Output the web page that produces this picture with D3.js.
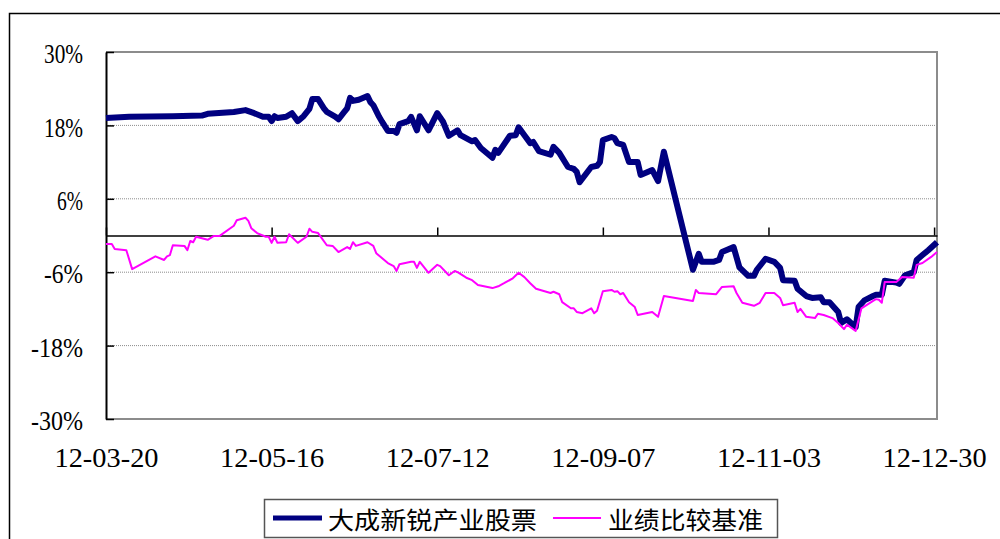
<!DOCTYPE html>
<html lang="zh">
<head>
<meta charset="utf-8">
<title>大成新锐产业股票 vs 业绩比较基准</title>
<script src="https://cdn.jsdelivr.net/npm/d3@7"></script>
<style>
  body { margin: 0; background: #fff; }
  svg { display: block; }
</style>
</head>
<body>
<script>
// series names, axis ticks
var seriesNames = ["大成新锐产业股票", "业绩比较基准"];
var yTicks = [-30, -18, -6, 6, 18, 30];
var xTickLabels = ["12-03-20", "12-05-16", "12-07-12", "12-09-07", "12-11-03", "12-12-30"];

// fund (navy), %
var fundDates = ["2012-03-20","2012-03-28","2012-04-12","2012-04-22","2012-04-24","2012-05-03","2012-05-07","2012-05-10",
  "2012-05-13","2012-05-15","2012-05-16","2012-05-17","2012-05-18","2012-05-21","2012-05-23","2012-05-25","2012-05-27",
  "2012-05-29","2012-05-30","2012-06-01","2012-06-03","2012-06-04","2012-06-07","2012-06-08","2012-06-10","2012-06-11",
  "2012-06-12","2012-06-13","2012-06-15","2012-06-18","2012-06-19","2012-06-20","2012-06-22","2012-06-23","2012-06-25",
  "2012-06-27","2012-06-28","2012-06-29","2012-07-02","2012-07-03","2012-07-05","2012-07-06","2012-07-09","2012-07-12",
  "2012-07-14","2012-07-16","2012-07-19","2012-07-20","2012-07-24","2012-07-25","2012-07-27","2012-07-31","2012-08-01",
  "2012-08-02","2012-08-06","2012-08-08","2012-08-09","2012-08-11","2012-08-13","2012-08-14","2012-08-16","2012-08-20",
  "2012-08-21","2012-08-23","2012-08-26","2012-08-28","2012-08-29","2012-08-30","2012-09-03","2012-09-05","2012-09-06",
  "2012-09-07","2012-09-10","2012-09-11","2012-09-12","2012-09-14","2012-09-16","2012-09-17","2012-09-19","2012-09-20",
  "2012-09-24","2012-09-26","2012-09-28","2012-10-08","2012-10-10","2012-10-11","2012-10-15","2012-10-17","2012-10-18",
  "2012-10-22","2012-10-24","2012-10-27","2012-10-29","2012-10-30","2012-11-02","2012-11-05","2012-11-07","2012-11-08",
  "2012-11-12","2012-11-13","2012-11-16","2012-11-18","2012-11-21","2012-11-22","2012-11-24","2012-11-27","2012-11-28",
  "2012-11-30","2012-12-03","2012-12-04","2012-12-06","2012-12-09","2012-12-10","2012-12-12","2012-12-13","2012-12-17",
  "2012-12-18","2012-12-20","2012-12-23","2012-12-24","2012-12-26","2012-12-28","2012-12-31"];
var fundValues = [19.2,19.4,19.5,19.6,19.9,20.2,20.5,20.0,
  19.4,19.4,18.7,19.5,19.2,19.4,20.0,18.7,19.5,
  20.7,22.3,22.3,20.8,20.2,19.4,19.0,20.2,20.8,
  22.5,22.0,22.2,22.8,21.8,21.3,19.4,18.6,17.1,
  17.1,16.8,18.2,18.7,19.4,17.2,19.5,17.2,20.0,
  18.6,16.3,17.2,16.4,15.4,15.6,14.3,12.7,14.0,
  13.5,16.3,16.4,17.7,16.4,15.1,15.3,13.8,13.2,
  14.5,13.5,11.2,10.9,10.4,8.7,11.2,11.4,12.0,
  15.6,16.1,15.9,15.1,14.8,12.0,12.0,12.0,9.9,
  10.7,8.9,13.7,-5.6,-3.0,-4.3,-4.3,-4.0,-2.7,
  -1.9,-5.2,-6.6,-6.6,-5.6,-3.8,-4.3,-5.3,-7.3,
  -7.4,-8.7,-9.9,-10.2,-10.1,-10.9,-10.9,-12.5,-14.3,
  -13.7,-15.0,-11.7,-10.6,-9.9,-9.7,-9.7,-7.4,-7.7,
  -7.9,-6.5,-6.0,-4.0,-3.2,-2.4,-1.1];

// benchmark (magenta), %
var benchDates = ["2012-03-20","2012-03-22","2012-03-23","2012-03-27","2012-03-29","2012-04-06","2012-04-09","2012-04-10",
  "2012-04-11","2012-04-12","2012-04-16","2012-04-17","2012-04-18","2012-04-19","2012-04-20","2012-04-24","2012-04-26",
  "2012-04-28","2012-05-03","2012-05-04","2012-05-07","2012-05-08","2012-05-09","2012-05-11","2012-05-14","2012-05-15",
  "2012-05-16","2012-05-17","2012-05-18","2012-05-21","2012-05-22","2012-05-25","2012-05-28","2012-05-29","2012-05-30",
  "2012-06-01","2012-06-04","2012-06-06","2012-06-08","2012-06-11","2012-06-12","2012-06-13","2012-06-14","2012-06-18",
  "2012-06-20","2012-06-21","2012-06-25","2012-06-27","2012-06-28","2012-06-29","2012-07-03","2012-07-04","2012-07-05",
  "2012-07-06","2012-07-09","2012-07-12","2012-07-13","2012-07-16","2012-07-18","2012-07-19","2012-07-22","2012-07-24",
  "2012-07-26","2012-07-31","2012-08-02","2012-08-04","2012-08-07","2012-08-09","2012-08-11","2012-08-13","2012-08-15",
  "2012-08-20","2012-08-21","2012-08-23","2012-08-24","2012-08-27","2012-08-28","2012-08-29","2012-08-31","2012-09-03",
  "2012-09-04","2012-09-05","2012-09-07","2012-09-10","2012-09-11","2012-09-12","2012-09-13","2012-09-14","2012-09-16",
  "2012-09-18","2012-09-19","2012-09-24","2012-09-26","2012-09-28","2012-10-08","2012-10-09","2012-10-10","2012-10-16",
  "2012-10-18","2012-10-22","2012-10-23","2012-10-25","2012-10-29","2012-10-31","2012-11-02","2012-11-05","2012-11-07",
  "2012-11-08","2012-11-12","2012-11-13","2012-11-14","2012-11-16","2012-11-19","2012-11-20","2012-11-22","2012-11-25",
  "2012-11-27","2012-11-29","2012-11-30","2012-12-03","2012-12-05","2012-12-09","2012-12-10","2012-12-11","2012-12-12",
  "2012-12-13","2012-12-17","2012-12-19","2012-12-23","2012-12-24","2012-12-26","2012-12-29","2012-12-31"];
var benchValues = [-1.4,-1.4,-2.2,-2.4,-5.5,-3.4,-4.0,-3.4,
  -3.2,-1.6,-1.7,-2.4,-0.9,-1.1,-0.2,-0.7,-0.1,
  -0.1,1.6,2.5,2.9,2.4,1.2,0.4,-0.2,-0.2,
  -1.2,-0.2,-1.2,-1.1,0.2,-1.2,-0.2,1.1,0.6,
  0.4,-1.6,-1.7,-2.7,-1.9,-2.2,-1.1,-1.7,-1.1,
  -1.7,-2.9,-4.5,-5.0,-5.8,-4.7,-4.3,-4.3,-5.3,
  -4.3,-6.1,-4.8,-5.0,-6.5,-5.8,-6.0,-6.9,-7.3,
  -8.1,-8.6,-8.3,-7.8,-7.0,-6.1,-6.8,-7.8,-8.7,
  -9.4,-9.2,-9.6,-10.9,-11.9,-11.9,-12.5,-12.7,-11.9,
  -12.7,-12.3,-9.1,-8.9,-9.2,-9.1,-9.6,-9.4,-10.9,
  -11.7,-13.0,-12.5,-13.3,-9.9,-10.7,-8.9,-9.4,-9.6,
  -8.4,-8.3,-9.4,-11.0,-11.5,-11.0,-9.4,-9.4,-10.2,
  -11.4,-11.0,-12.5,-12.0,-13.3,-13.5,-12.8,-13.0,-13.5,
  -14.3,-15.3,-14.6,-15.6,-11.9,-10.7,-10.4,-10.5,-11.0,
  -7.6,-7.6,-6.8,-6.9,-4.8,-4.5,-3.5,-2.7];

var w = 1000, h = 539;
var plotLeft = 106, plotRight = 937, plotTop = 52, plotBottom = 419;

var parseDate = d3.timeParse("%Y-%m-%d");
var parseTick = d3.timeParse("%y-%m-%d");

var fund = fundDates.map(function(d, i) { return { date: parseDate(d), value: fundValues[i] }; });
var bench = benchDates.map(function(d, i) { return { date: parseDate(d), value: benchValues[i] }; });
var tickDates = xTickLabels.map(function(s) { return parseTick(s); });

var x = d3.scaleTime()
  .domain([parseDate("2012-03-20"), parseDate("2012-12-31")])
  .range([plotLeft, plotRight]);
var y = d3.scaleLinear().domain([-30, 30]).range([plotBottom, plotTop]);

var svg = d3.select("body").append("svg").attr("width", w).attr("height", h);

// outer frame (only top and left are on screen)
svg.append("rect")
  .attr("x", 9.5).attr("y", 13.5).attr("width", 1100).attr("height", 700)
  .attr("fill", "none").attr("stroke", "#000").attr("stroke-width", 1.5);

// dotted grid lines
svg.append("g").selectAll("line")
  .data(yTicks.filter(function(v) { return v !== 30 && v !== -30; }))
  .enter().append("line")
  .attr("x1", plotLeft).attr("x2", plotRight)
  .attr("y1", function(d) { return y(d); }).attr("y2", function(d) { return y(d); })
  .attr("stroke", "#8c8c8c").attr("stroke-width", 1).attr("stroke-dasharray", "1,1");

// plot frame top / right / bottom
svg.append("path")
  .attr("d", "M" + plotLeft + "," + y(30) + "H" + plotRight + "V" + y(-30) + "H" + plotLeft)
  .attr("fill", "none").attr("stroke", "#8c8c8c").attr("stroke-width", 2);

// y axis, ticks pointing inwards
var yAxis = svg.append("g")
  .attr("transform", "translate(" + plotLeft + ",0)")
  .call(d3.axisLeft(y).tickValues(yTicks).tickSizeInner(-8).tickSizeOuter(0).tickPadding(23)
    .tickFormat(function(d) { return d + "%"; }));
yAxis.select(".domain").attr("stroke", "#000").attr("stroke-width", 2);
yAxis.selectAll(".tick line").attr("stroke", "#000").attr("stroke-width", 1.5);
yAxis.selectAll(".tick text")
  .attr("font-family", "'Liberation Serif', 'DejaVu Serif', serif")
  .attr("font-size", 28).attr("fill", "#000")
  .attr("dy", "0.38em")
  .attr("textLength", function(d) { return (d + "%").length * 13; })
  .attr("lengthAdjust", "spacingAndGlyphs");

// zero line with date ticks going up
var zeroAxis = svg.append("g")
  .attr("transform", "translate(0," + y(0) + ")")
  .call(d3.axisTop(x).tickValues(tickDates).tickSizeInner(8).tickSizeOuter(0).tickFormat(""));
zeroAxis.select(".domain").attr("stroke", "#000").attr("stroke-width", 1.5);
zeroAxis.selectAll(".tick line").attr("stroke", "#000").attr("stroke-width", 1.5);

// date labels under the plot
var xLabels = svg.append("g")
  .attr("transform", "translate(0," + plotBottom + ")")
  .call(d3.axisBottom(x).tickValues(tickDates).tickSize(0).tickPadding(28)
    .tickFormat(function(d, i) { return xTickLabels[i]; }));
xLabels.select(".domain").remove();
xLabels.selectAll(".tick text")
  .attr("font-family", "'Liberation Serif', 'DejaVu Serif', serif")
  .attr("font-size", 28).attr("fill", "#000")
  .attr("textLength", 104)
  .attr("lengthAdjust", "spacingAndGlyphs");

// lines
var line = d3.line()
  .x(function(d) { return x(d.date); })
  .y(function(d) { return y(d.value); });

svg.append("path").datum(fund)
  .attr("d", line)
  .attr("fill", "none").attr("stroke", "#000080").attr("stroke-width", 6)
  .attr("stroke-linejoin", "round");

svg.append("path").datum(bench)
  .attr("d", line)
  .attr("fill", "none").attr("stroke", "#ff00ff").attr("stroke-width", 2)
  .attr("stroke-linejoin", "round");

// legend
var legend = svg.append("g");
legend.append("rect")
  .attr("x", 264.5).attr("y", 499.5).attr("width", 513).attr("height", 38)
  .attr("fill", "#fff").attr("stroke", "#555").attr("stroke-width", 1.5);

var legendItems = [
  { name: seriesNames[0], color: "#000080", width: 5, x1: 273, x2: 322, tx: 328, tl: 209 },
  { name: seriesNames[1], color: "#ff00ff", width: 2, x1: 553, x2: 601, tx: 608, tl: 155 }
];
legendItems.forEach(function(it) {
  legend.append("line")
    .attr("x1", it.x1).attr("x2", it.x2).attr("y1", 518).attr("y2", 518)
    .attr("stroke", it.color).attr("stroke-width", it.width);
  legend.append("text")
    .attr("x", it.tx).attr("y", 529)
    .attr("font-family", "'Noto Sans CJK SC', sans-serif")
    .attr("font-size", 24).attr("fill", "#000")
    .attr("textLength", it.tl).attr("lengthAdjust", "spacingAndGlyphs")
    .text(it.name);
});
</script>
</body>
</html>
